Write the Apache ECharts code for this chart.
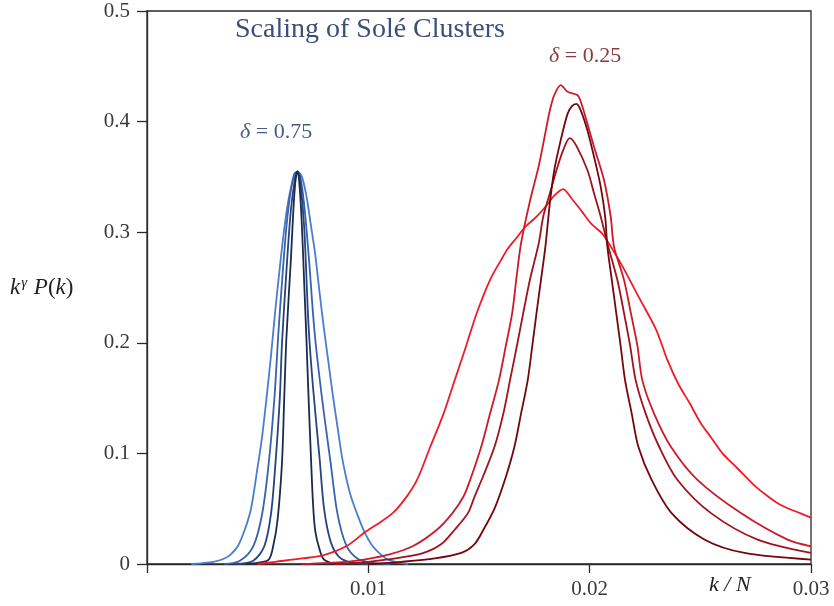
<!DOCTYPE html>
<html>
<head>
<meta charset="utf-8">
<script src="https://cdn.jsdelivr.net/npm/echarts@6/dist/echarts.min.js"></script>
<style>html,body{margin:0;padding:0;background:#fff}#c{width:834px;height:606px}</style>
</head>
<body>
<div id="c"></div>
<script>
// x ticks and y ticks
const xTicks = [0, 0.01, 0.02, 0.03];
const yTicks = [0, 0.1, 0.2, 0.3, 0.4, 0.5];

// delta = 0.75 curves (light -> dark)
const blue1 = [[0.0020,0],[0.0030,0.002],[0.0035,0.005],[0.0038,0.009],[0.0041,0.016],[0.0044,0.030],[0.0047,0.050],[0.0050,0.088],[0.0052,0.115],[0.0054,0.150],[0.0056,0.188],[0.0058,0.230],[0.0060,0.268],[0.0062,0.303],[0.0064,0.330],[0.0066,0.347],[0.0068,0.355],[0.0070,0.350],[0.0072,0.333],[0.0074,0.307],[0.0076,0.280],[0.0078,0.245],[0.0080,0.212],[0.0082,0.182],[0.0084,0.152],[0.0086,0.125],[0.0088,0.098],[0.0090,0.078],[0.0092,0.062],[0.0095,0.045],[0.0098,0.030],[0.0102,0.016],[0.0106,0.008],[0.0110,0.003],[0.0118,0]];
const blue2 = [[0.0035,0],[0.0042,0.003],[0.0048,0.016],[0.0052,0.045],[0.0055,0.091],[0.00576,0.151],[0.00594,0.21],[0.0061,0.255],[0.0063,0.305],[0.0065,0.338],[0.0067,0.354],[0.0069,0.352],[0.0071,0.325],[0.0073,0.280],[0.00757,0.21],[0.0079,0.151],[0.0083,0.091],[0.0086,0.046],[0.0090,0.017],[0.0095,0.005],[0.0102,0.001],[0.0110,0]];
const blue3 = [[0.0040,0],[0.0048,0.003],[0.0053,0.016],[0.0056,0.045],[0.0058,0.090],[0.0060,0.150],[0.0061,0.200],[0.0063,0.265],[0.0065,0.320],[0.0067,0.350],[0.0068,0.355],[0.0069,0.350],[0.0071,0.305],[0.0073,0.215],[0.0075,0.160],[0.0078,0.095],[0.0080,0.050],[0.0083,0.020],[0.0087,0.006],[0.0093,0.001],[0.0100,0]];
const blue4 = [[0.0045,0],[0.0050,0.001],[0.0055,0.004],[0.0057,0.016],[0.0059,0.040],[0.0061,0.092],[0.0062,0.150],[0.0063,0.205],[0.0065,0.275],[0.0066,0.315],[0.0067,0.345],[0.0068,0.355],[0.0069,0.340],[0.0070,0.305],[0.0071,0.255],[0.0072,0.205],[0.0073,0.150],[0.0074,0.100],[0.0075,0.055],[0.0076,0.030],[0.0078,0.013],[0.0080,0.004],[0.0085,0]];

// delta = 0.25 curves
const red1 = [[0.0050,0],[0.0058,0.002],[0.0070,0.005],[0.0080,0.008],[0.0090,0.016],[0.0098,0.028],[0.0104,0.036],[0.0111,0.046],[0.0117,0.060],[0.0122,0.076],[0.0128,0.106],[0.0134,0.136],[0.0139,0.166],[0.0144,0.196],[0.0149,0.227],[0.0155,0.257],[0.0160,0.275],[0.0163,0.285],[0.0167,0.295],[0.0171,0.305],[0.0176,0.314],[0.0180,0.323],[0.0184,0.333],[0.0188,0.339],[0.0192,0.330],[0.0196,0.320],[0.0201,0.307],[0.0206,0.298],[0.0214,0.272],[0.0222,0.242],[0.0230,0.212],[0.0235,0.185],[0.0240,0.163],[0.0245,0.146],[0.0250,0.128],[0.0255,0.114],[0.0260,0.100],[0.0265,0.090],[0.0270,0.080],[0.0275,0.070],[0.0280,0.062],[0.0285,0.055],[0.0290,0.050],[0.0295,0.046],[0.0300,0.042]];
const red2 = [[0.0070,0],[0.0090,0.002],[0.0098,0.004],[0.0110,0.009],[0.0120,0.016],[0.0131,0.031],[0.0138,0.046],[0.0143,0.061],[0.0146,0.076],[0.0151,0.106],[0.0155,0.136],[0.0159,0.166],[0.0162,0.196],[0.0165,0.227],[0.0167,0.260],[0.0169,0.290],[0.0173,0.328],[0.0177,0.360],[0.0180,0.390],[0.0182,0.410],[0.0184,0.424],[0.0187,0.433],[0.0190,0.427],[0.01944,0.424],[0.0196,0.418],[0.0199,0.398],[0.0202,0.377],[0.02065,0.347],[0.02095,0.314],[0.0211,0.287],[0.02155,0.257],[0.02186,0.227],[0.02216,0.197],[0.02238,0.166],[0.02291,0.136],[0.02367,0.106],[0.02487,0.076],[0.02683,0.046],[0.02894,0.022],[0.0300,0.016]];
const red3 = [[0.0085,0],[0.0100,0.002],[0.0115,0.006],[0.0125,0.010],[0.0133,0.018],[0.0139,0.031],[0.0145,0.046],[0.0148,0.061],[0.0152,0.080],[0.0157,0.106],[0.0161,0.136],[0.0164,0.166],[0.0167,0.196],[0.0170,0.227],[0.0173,0.257],[0.0177,0.290],[0.0179,0.314],[0.0182,0.335],[0.0185,0.356],[0.0188,0.374],[0.0191,0.385],[0.0194,0.378],[0.0199,0.356],[0.0202,0.335],[0.0205,0.314],[0.0208,0.290],[0.02125,0.257],[0.02155,0.227],[0.02183,0.197],[0.02208,0.166],[0.02253,0.136],[0.02314,0.106],[0.02397,0.076],[0.02548,0.046],[0.02759,0.022],[0.0300,0.010]];
const red4 = [[0.0100,0],[0.0115,0.002],[0.0130,0.005],[0.0142,0.010],[0.0148,0.018],[0.0152,0.031],[0.0157,0.050],[0.0162,0.078],[0.0166,0.106],[0.0169,0.136],[0.0172,0.166],[0.0174,0.196],[0.0176,0.227],[0.0178,0.257],[0.0180,0.287],[0.0182,0.326],[0.0184,0.356],[0.01869,0.383],[0.0190,0.407],[0.0192,0.414],[0.0194,0.416],[0.0196,0.410],[0.0199,0.392],[0.0202,0.368],[0.0205,0.341],[0.0207,0.314],[0.0208,0.287],[0.0210,0.257],[0.0212,0.227],[0.0214,0.197],[0.0216,0.166],[0.0219,0.136],[0.0222,0.106],[0.0228,0.076],[0.0237,0.046],[0.0252,0.022],[0.0270,0.010],[0.0300,0.004]];

const seriesData = [
  {d: blue1, c: '#4a7dcf'},
  {d: blue2, c: '#3763ab'},
  {d: blue3, c: '#26457c'},
  {d: blue4, c: '#1a2b52'},
  {d: red1, c: '#ee1c28'},
  {d: red2, c: '#cc1a2a'},
  {d: red3, c: '#a0121c'},
  {d: red4, c: '#74060e'}
];

const SERIF = '"Liberation Serif", "DejaVu Serif", serif';
const chart = echarts.init(document.getElementById('c'), null, {renderer: 'canvas'});
chart.setOption({
  animation: false,
  backgroundColor: '#fff',
  grid: {left: 147, right: 23, top: 11, bottom: 42, show: true, borderColor: '#2a2a2a', borderWidth: 1.3, backgroundColor: 'transparent'},
  xAxis: {
    type: 'value', min: xTicks[0], max: xTicks[xTicks.length - 1], interval: 0.01,
    axisLine: {lineStyle: {color: '#2a2a2a', width: 1.3}},
    axisTick: {show: true, inside: false, length: 9, lineStyle: {color: '#2a2a2a', width: 1.3}},
    splitLine: {show: false},
    axisLabel: {color: '#3a3a3a', fontFamily: SERIF, fontSize: 21, margin: 15,
      formatter: v => v === 0 ? '' : String(+v.toFixed(2))}
  },
  yAxis: {
    type: 'value', min: yTicks[0], max: yTicks[yTicks.length - 1], interval: 0.1,
    axisLine: {lineStyle: {color: '#2a2a2a', width: 1.3}},
    axisTick: {show: true, inside: false, length: 10, lineStyle: {color: '#2a2a2a', width: 1.3}},
    splitLine: {show: false},
    axisLabel: {color: '#3a3a3a', fontFamily: SERIF, fontSize: 21, margin: 17,
      formatter: v => String(+v.toFixed(1))}
  },
  series: seriesData.map(s => ({
    type: 'line', data: s.d, showSymbol: false, smooth: 0.3,
    lineStyle: {color: s.c, width: 1.8}, itemStyle: {color: s.c}, silent: true
  })),
  graphic: [
    {type: 'text', left: 235, top: 16, style: {text: 'Scaling of Solé Clusters', font: '28px ' + SERIF, fill: '#3c4d78'}},
    {type: 'text', left: 240, top: 121, style: {text: '{i|δ}{n| = 0.75}', rich: {i: {font: 'italic 22px ' + SERIF, fill: '#4a5a85'}, n: {font: '22px ' + SERIF, fill: '#4a5a85'}}}},
    {type: 'text', left: 549, top: 45, style: {text: '{i|δ}{n| = 0.25}', rich: {i: {font: 'italic 22px ' + SERIF, fill: '#8c3a3e'}, n: {font: '22px ' + SERIF, fill: '#8c3a3e'}}}},
    {type: 'text', left: 10, top: 276, style: {text: '{i|k}{s|γ}{i| P}{n|(}{i|k}{n|)}', rich: {
      i: {font: 'italic 23px ' + SERIF, fill: '#222'},
      n: {font: '23px ' + SERIF, fill: '#222'},
      s: {font: 'italic 15px ' + SERIF, fill: '#222', verticalAlign: 'top', padding: [0, 1, 9, 1]}
    }}},
    {type: 'text', left: 709, top: 574, style: {text: 'k / N', font: 'italic 22px ' + SERIF, fill: '#222'}}
  ]
});
</script>
</body>
</html>
